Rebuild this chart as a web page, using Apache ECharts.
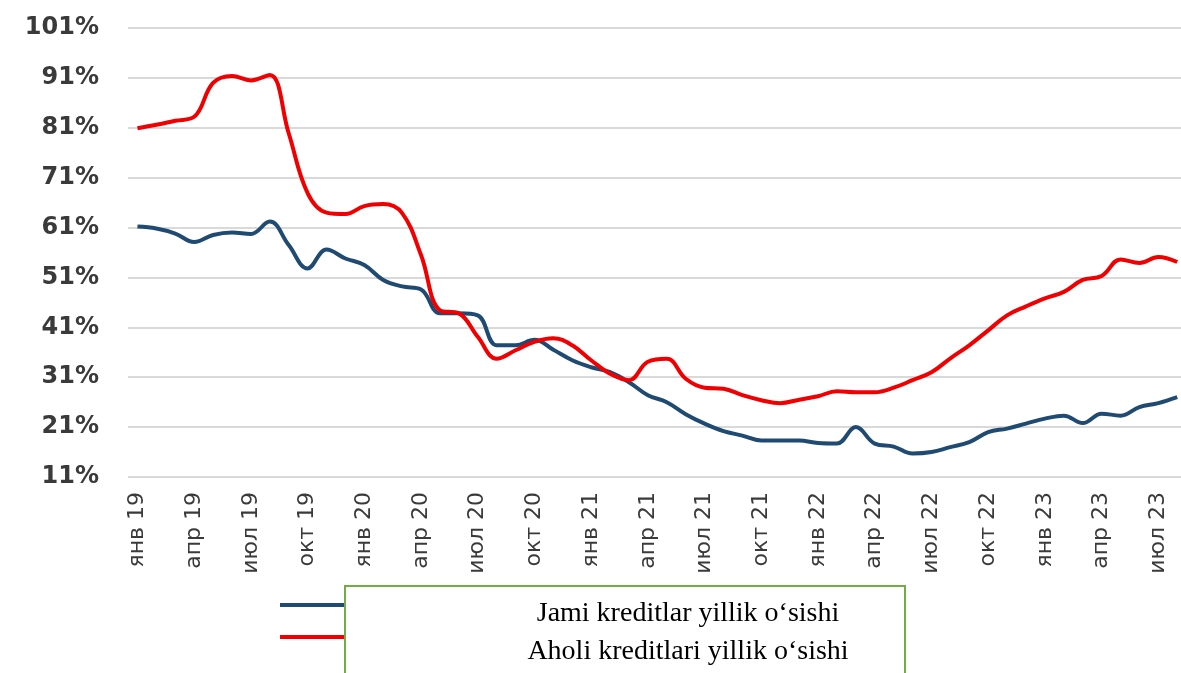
<!DOCTYPE html>
<html>
<head>
<meta charset="utf-8">
<script src="https://cdn.jsdelivr.net/npm/echarts@6/dist/echarts.min.js"></script>
<style>
html,body{margin:0;padding:0;background:#fff;}
#chart{width:1181px;height:673px;}
</style>
</head>
<body>
<div id="chart"></div>
<script>
const months = ['янв','фев','мар','апр','май','июн','июл','авг','сен','окт','ноя','дек'];
const years = ['19','20','21','22','23'];
const categories = [];
for (const y of years) for (const m of months) categories.push(m + ' ' + y);
categories.length = 56; // янв 19 … авг 23
const labelIndices = [0, 3, 6, 9, 12, 15, 18, 21, 24, 27, 30, 33, 36, 39, 42, 45, 48, 51, 54];

const seriesNames = ['Jami kreditlar yillik o‘sishi', 'Aholi kreditlari yillik o‘sishi'];

const totalLoans = [
  61.2, 60.8, 59.8, 58.1, 59.5, 60.0, 59.7, 62.2, 57.5, 52.8, 56.6, 54.8,
  53.5, 50.5, 49.2, 48.6, 43.8, 43.8, 43.4, 37.4, 37.4, 38.5, 36.5, 34.4,
  33.0, 32.0, 30.0, 27.4, 26.0, 23.6, 21.7, 20.2, 19.3, 18.3, 18.3, 18.3,
  17.8, 17.7, 21.0, 17.7, 17.1, 15.7, 16.0, 17.0, 18.0, 20.0, 20.7, 21.7,
  22.7, 23.3, 21.8, 23.7, 23.3, 25.0, 25.8, 27.0
];
const householdLoans = [
  80.9, 81.6, 82.4, 83.2, 90.0, 91.4, 90.5, 91.6, 79.9, 67.9, 64.0, 63.7,
  65.3, 65.7, 63.9, 55.5, 44.4, 43.8, 39.1, 34.7, 36.4, 38.1, 38.8, 37.4,
  34.4, 31.7, 30.4, 34.1, 34.7, 30.7, 28.9, 28.7, 27.4, 26.4, 25.8, 26.5,
  27.2, 28.2, 28.0, 28.0, 28.9, 30.4, 32.0, 34.8, 37.4, 40.4, 43.4, 45.2,
  46.8, 48.1, 50.5, 51.3, 54.6, 53.9, 55.1, 54.1
];

const toPairs = arr => arr.map((v, i) => [i, v]);

const chart = echarts.init(document.getElementById('chart'));
chart.setOption({
  animation: false,
  backgroundColor: '#ffffff',
  grid: { left: 128, right: 0, top: 28, bottom: 196, containLabel: false },
  xAxis: {
    type: 'value',
    min: -0.5,
    max: 55.2,
    axisLine: { show: false },
    axisTick: { show: false },
    splitLine: { show: false },
    axisLabel: {
      customValues: labelIndices,
      formatter: v => categories[Math.round(v)],
      rotate: 90,
      margin: 15,
      color: '#3a3a3a',
      fontFamily: 'DejaVu Sans',
      fontSize: 22,
      showMinLabel: true,
      showMaxLabel: true
    }
  },
  yAxis: {
    type: 'value',
    min: 11,
    max: 101,
    interval: 10,
    axisLine: { show: false },
    axisTick: { show: false },
    splitLine: { lineStyle: { color: '#d9d9d9', width: 2 } },
    axisLabel: {
      margin: 29,
      color: '#3a3a3a',
      fontFamily: 'DejaVu Sans',
      fontWeight: 'bold',
      fontSize: 24,
      formatter: v => v + '%'
    }
  },
  legend: [
    { data: [seriesNames[0]], left: 280, top: 603, padding: 0, icon: 'rect',
      itemWidth: 65, itemHeight: 4, formatter: () => '', selectedMode: false },
    { data: [seriesNames[1]], left: 280, top: 635, padding: 0, icon: 'rect',
      itemWidth: 65, itemHeight: 4, formatter: () => '', selectedMode: false }
  ],
  graphic: [
    { type: 'rect', shape: { x: 345, y: 586, width: 560, height: 100 },
      style: { fill: '#ffffff', stroke: '#70ad47', lineWidth: 2 }, z: 10 },
    { type: 'text', x: 688, y: 614, z: 11,
      style: { text: seriesNames[0], fill: '#000', font: '28px "Liberation Serif"',
               textAlign: 'center', textVerticalAlign: 'middle' } },
    { type: 'text', x: 688, y: 652, z: 11,
      style: { text: seriesNames[1], fill: '#000', font: '28px "Liberation Serif"',
               textAlign: 'center', textVerticalAlign: 'middle' } }
  ],
  series: [
    { name: seriesNames[0], type: 'line', data: toPairs(totalLoans), smooth: 0.4,
      showSymbol: false, color: '#1f4a72', lineStyle: { width: 4, color: '#1f4a72' } },
    { name: seriesNames[1], type: 'line', data: toPairs(householdLoans), smooth: 0.4,
      showSymbol: false, color: '#f00000', lineStyle: { width: 4, color: '#f00000' } }
  ]
});
</script>
</body>
</html>
